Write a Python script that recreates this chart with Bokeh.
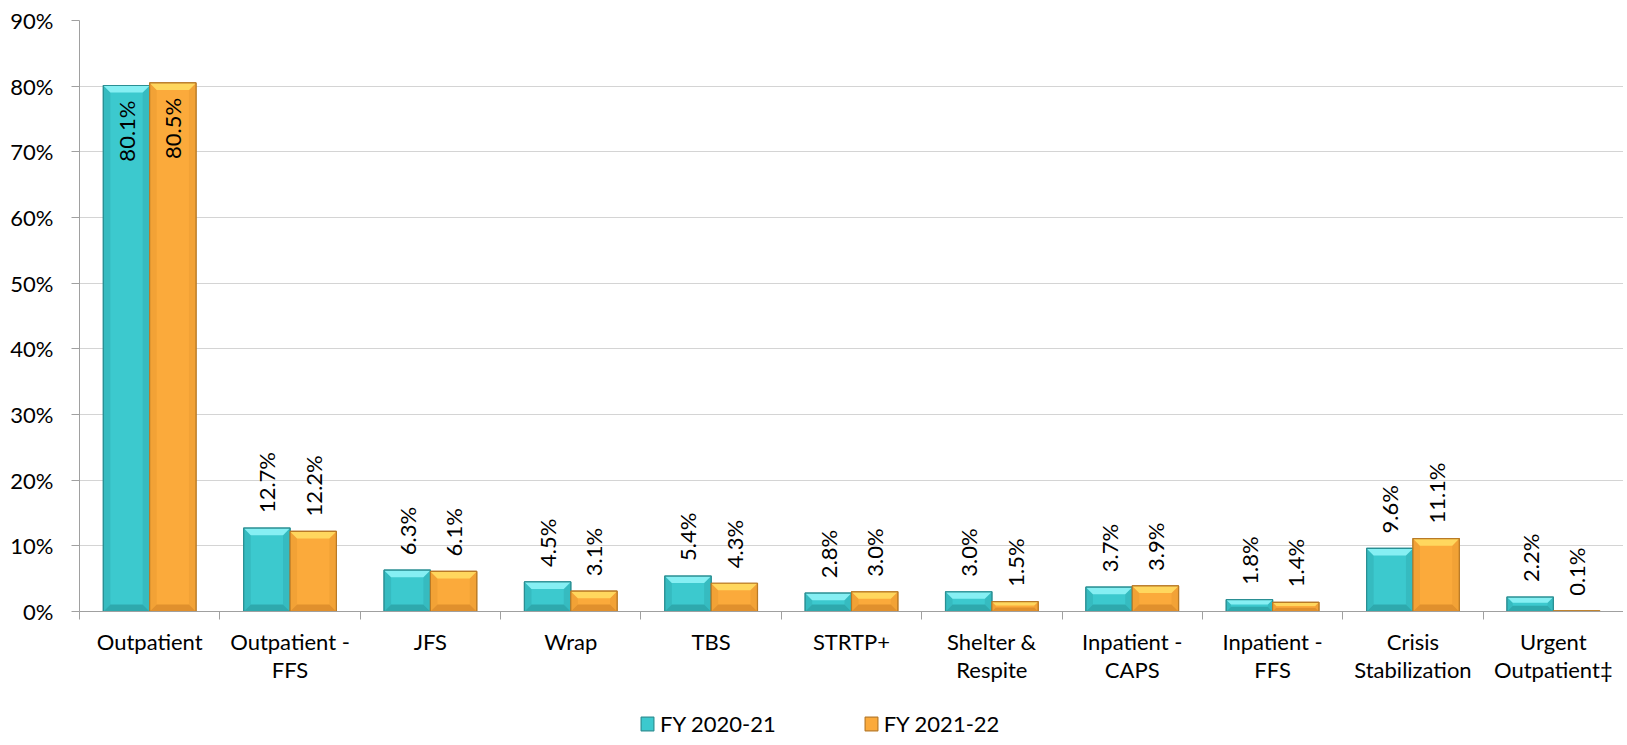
import math
from bokeh.plotting import figure
from bokeh.layouts import column
from bokeh.models import (ColumnDataSource, FixedTicker, LinearAxis, Range1d,
                          Legend, LegendItem, LabelSet, Grid)
from bokeh.core.properties import value
from bokeh.embed import file_html
from bokeh.resources import INLINE

categories = ["Outpatient", "Outpatient -\nFFS", "JFS", "Wrap", "TBS", "STRTP+",
              "Shelter &\nRespite", "Inpatient -\nCAPS", "Inpatient -\nFFS",
              "Crisis\nStabilization", "Urgent\nOutpatient\u2021"]
fy_2020_21 = [80.1, 12.7, 6.3, 4.5, 5.4, 2.8, 3.0, 3.7, 1.8, 9.6, 2.2]
fy_2021_22 = [80.5, 12.2, 6.1, 3.1, 4.3, 3.0, 1.5, 3.9, 1.4, 11.1, 0.1]
series_names = ["FY 2020-21", "FY 2021-22"]
y_ticks = [0, 10, 20, 30, 40, 50, 60, 70, 80, 90]

FONT = "Lato"
# base, top highlight, side shade, bottom shade, edge
TEAL = ("#3CC9CE", "#86EFF3", "#36BBC0", "#2EA9AD", "#2A8F93")
ORANGE = ("#FBAA3B", "#FFD75E", "#F2A236", "#E0902D", "#B97A26")

n = len(categories)
centers = [i + 0.5 for i in range(n)]
bw = 0.33

p = figure(frame_width=1544, frame_height=591, output_backend="svg", toolbar_location=None,
           x_range=Range1d(0, n), y_range=Range1d(0, 90),
           x_axis_type=None, y_axis_type=None,
           min_border_left=79, min_border_top=20, min_border_right=0, min_border_bottom=90)
p.outline_line_color = None
p.background_fill_color = "white"
p.border_fill_color = "white"

# y axis
yax = LinearAxis(ticker=FixedTicker(ticks=y_ticks),
                 major_label_overrides={t: f"{t}%" for t in y_ticks})
yax.major_label_text_font = FONT
yax.major_label_text_font_size = "22px"
yax.major_label_text_color = "black"
yax.major_label_standoff = 18
yax.major_tick_out = 8
yax.major_tick_in = 0
yax.minor_tick_out = 0
yax.minor_tick_in = 0
yax.axis_line_color = "#A0A0A0"
yax.major_tick_line_color = "#A0A0A0"
p.add_layout(yax, "left")

# x axis with ticks at category boundaries
xax1 = LinearAxis(ticker=FixedTicker(ticks=list(range(n + 1))),
                  major_label_overrides={i: "" for i in range(n + 1)})
xax1.major_tick_out = 8
xax1.major_tick_in = 0
xax1.minor_tick_out = 0
xax1.minor_tick_in = 0
xax1.major_label_standoff = 0
xax1.major_label_text_font_size = "1px"
xax1.axis_line_color = "#A0A0A0"
xax1.major_tick_line_color = "#A0A0A0"
p.add_layout(xax1, "below")

# x axis with category labels at centres
xax2 = LinearAxis(ticker=FixedTicker(ticks=centers),
                  major_label_overrides={c: lab for c, lab in zip(centers, categories)})
xax2.axis_line_color = None
xax2.major_tick_line_color = None
xax2.minor_tick_line_color = None
xax2.major_tick_out = 0
xax2.major_tick_in = 0
xax2.major_label_standoff = 8
xax2.major_label_text_font = FONT
xax2.major_label_text_font_size = "22px"
xax2.major_label_text_color = "black"
xax2.major_label_text_line_height = 1.05
p.add_layout(xax2, "below")

grid = Grid(dimension=1, ticker=FixedTicker(ticks=y_ticks), grid_line_color="#D4D4D4", grid_line_width=1)
p.add_layout(grid)

src = ColumnDataSource(dict(
    x1=[c - bw / 2 for c in centers], x2=[c + bw / 2 for c in centers],
    v1=fy_2020_21, v2=fy_2021_22))

p.vbar(x="x1", top="v1", width=bw, source=src, fill_color=TEAL[0],
       line_color=TEAL[4], line_width=1.2)
p.vbar(x="x2", top="v2", width=bw, source=src, fill_color=ORANGE[0],
       line_color=ORANGE[4], line_width=1.2)

# bevel facets (derived from each bar's own position and value)
BX = 0.05   # bevel width in x units (~7px)
BY = 1.07   # bevel height in y units (~7px)
for xs, vs, pal in ((src.data["x1"], fy_2020_21, TEAL), (src.data["x2"], fy_2021_22, ORANGE)):
    tops, lefts, rights, bots = ([], []), ([], []), ([], []), ([], [])
    for x, v in zip(xs, vs):
        L, R, T = x - bw / 2, x + bw / 2, v
        by = min(BY, v / 2.5)
        bx = BX * by / BY
        tops[0].append([L, R, R - bx, L + bx]); tops[1].append([T, T, T - by, T - by])
        lefts[0].append([L, L, L + bx, L + bx]); lefts[1].append([0, T, T - by, by])
        rights[0].append([R, R, R - bx, R - bx]); rights[1].append([0, T, T - by, by])
        bots[0].append([L, R, R - bx, L + bx]); bots[1].append([0, 0, by, by])
    p.patches(lefts[0], lefts[1], fill_color=pal[2], line_color=None)
    p.patches(rights[0], rights[1], fill_color=pal[2], line_color=None)
    p.patches(bots[0], bots[1], fill_color=pal[3], line_color=None)
    p.patches(tops[0], tops[1], fill_color=pal[1], line_color=None)
    p.vbar(x=list(xs), top=list(vs), width=bw, fill_color=None, line_color=pal[4], line_width=1.2)

# data labels
xs_out, ys_out, ts_out, xs_in, ys_in, ts_in = [], [], [], [], [], []
for xs, vs in ((src.data["x1"], fy_2020_21), (src.data["x2"], fy_2021_22)):
    for x, v in zip(xs, vs):
        if v > 50:
            xs_in.append(x); ys_in.append(v); ts_in.append(f"{v:.1f}%")
        else:
            xs_out.append(x); ys_out.append(v); ts_out.append(f"{v:.1f}%")

lab_out = LabelSet(x="x", y="y", text="t", source=ColumnDataSource(dict(x=xs_out, y=ys_out, t=ts_out)),
                   angle=math.pi / 2, text_align="left", text_baseline="middle",
                   y_offset=15, text_font=value(FONT), text_font_size=value("22px"), text_color="black")
lab_in = LabelSet(x="x", y="y", text="t", source=ColumnDataSource(dict(x=xs_in, y=ys_in, t=ts_in)),
                  angle=math.pi / 2, text_align="right", text_baseline="middle",
                  y_offset=-15, text_font=value(FONT), text_font_size=value("22px"), text_color="black")
p.add_layout(lab_out)
p.add_layout(lab_in)

# legend strip (separate small figure so the legend is not clipped)
lg = figure(frame_width=1623, frame_height=40, output_backend="svg", toolbar_location=None,
            x_range=Range1d(0, 1), y_range=Range1d(0, 1), x_axis_type=None, y_axis_type=None,
            min_border_left=0, min_border_right=0, min_border_top=0, min_border_bottom=0)
lg.outline_line_color = None
lg.xgrid.visible = False
lg.ygrid.visible = False
# swatch renderers with a NaN point: they draw nothing, only supply legend glyphs
nan = float("nan")
d1 = lg.vbar(x=[nan], top=[nan], width=0.1, fill_color=TEAL[0], line_color=TEAL[4], line_width=1.2)
d2 = lg.vbar(x=[nan], top=[nan], width=0.1, fill_color=ORANGE[0], line_color=ORANGE[4], line_width=1.2)
legend = Legend(items=[LegendItem(label=series_names[0], renderers=[d1]),
                       LegendItem(label=series_names[1], renderers=[d2])],
                orientation="horizontal", location=(639, 4),
                label_text_font=FONT, label_text_font_size="22px", label_text_color="black",
                glyph_width=16, glyph_height=17, spacing=87, label_standoff=5,
                border_line_color=None, background_fill_alpha=0, margin=0, padding=0)
lg.add_layout(legend, "center")

layout = column(p, lg, spacing=0)
open("out.html", "w").write(file_html(layout, INLINE))
